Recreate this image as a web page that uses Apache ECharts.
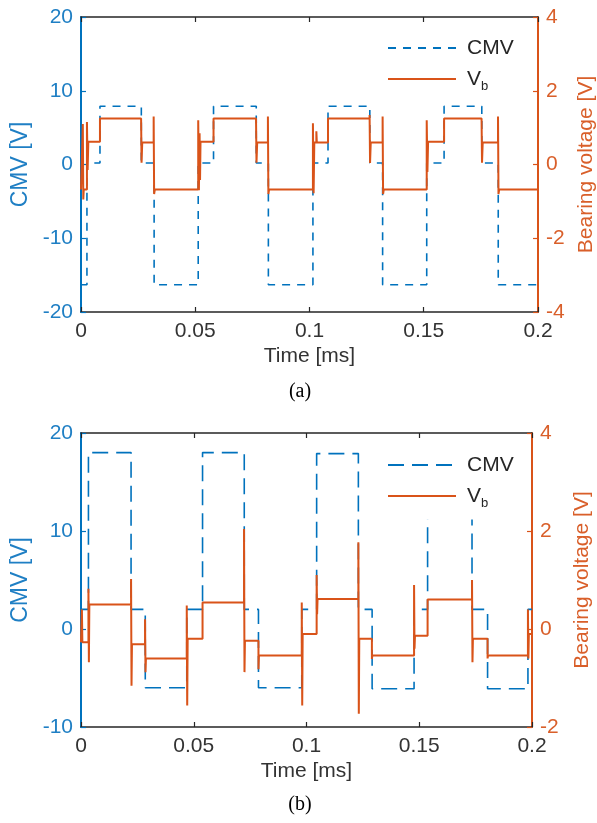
<!DOCTYPE html>
<html>
<head>
<meta charset="utf-8">
<script src="https://cdn.jsdelivr.net/npm/echarts@6/dist/echarts.min.js"></script>
<style>
html,body{margin:0;padding:0;background:#fff;}
#c{width:597px;height:823px;}
</style>
</head>
<body>
<div id="c"></div>
<script>
// ---------- Data (time in ms) ----------
// Plot (a): step breakpoints, value holds from t until next t
const aCmvT = [0, 0.0026, 0.0083, 0.0264, 0.0320, 0.0513, 0.0580, 0.0767, 0.0820, 0.1015, 0.1081, 0.1264, 0.1320, 0.1513, 0.1589, 0.1754, 0.1826, 0.2];
const aCmvV = [-16.3, 0.2, 7.9, 0.2, -16.3, 0.2, 7.9, 0.2, -16.3, 0.2, 7.9, 0.2, -16.3, 0.2, 7.9, 0.2, -16.3, -16.3];

const aVbT = [0, 0.0008, 0.0010, 0.0012,
  0.0026, 0.0029, 0.0032, 0.0083, 0.0263, 0.0265, 0.0268, 0.0318, 0.0320, 0.0323,
  0.0513, 0.0516, 0.0519, 0.0521, 0.0523, 0.0580, 0.0766, 0.0768, 0.0771, 0.0818, 0.0820, 0.0823,
  0.1015, 0.1018, 0.1021, 0.1030, 0.1032, 0.1081, 0.1263, 0.1265, 0.1268, 0.1320, 0.1322, 0.1325,
  0.1513, 0.1516, 0.1519, 0.1589, 0.1753, 0.1755, 0.1758, 0.1825, 0.1827, 0.1830, 0.2];
const aVbV = [-0.68, 1.1, -0.95, -0.68,
  1.15, -0.15, 0.62, 1.25, 1.25, 0.05, 0.6, 1.3, -0.8, -0.68,
  1.2, -0.7, 0.85, -0.42, 0.62, 1.25, 1.25, 0.05, 0.6, 1.3, -0.8, -0.68,
  1.12, -0.78, 0.6, 0.9, 0.6, 1.25, 1.34, 0.04, 0.6, 1.3, -0.8, -0.68,
  1.2, -0.2, 0.62, 1.25, 1.25, 0.05, 0.6, 1.3, -0.8, -0.68, -0.68];

// Plot (b)
const bCmvT = [0, 0.0033, 0.0222, 0.0285, 0.0469, 0.0539, 0.0724, 0.0787, 0.0979, 0.1045, 0.1230, 0.1291, 0.1477, 0.1537, 0.1734, 0.1803, 0.1982, 0.2];
const bCmvV = [2.0, 18.0, 2.0, -6.0, 2.0, 18.0, 2.0, -6.0, 2.0, 17.9, 2.0, -6.1, 2.0, 18.0, 2.0, -6.1, 2.0, 2.0];

const bVbT = [0, 0.0004, 0.0006,
  0.0033, 0.0035, 0.0037, 0.0222, 0.0224, 0.0226, 0.0284, 0.0286, 0.0288, 0.0469, 0.0471, 0.0473,
  0.0539, 0.0723, 0.0725, 0.0727, 0.0787, 0.0789, 0.0979, 0.0981, 0.0983,
  0.1045, 0.1047, 0.1049, 0.1230, 0.1232, 0.1234, 0.1290, 0.1292, 0.1477, 0.1479, 0.1481,
  0.1537, 0.1734, 0.1736, 0.1738, 0.1803, 0.1805, 0.1982, 0.1984, 0.1986, 0.2];
const bVbV = [-0.27, 0.4, -0.27,
  0.82, -0.68, 0.5, 1.02, -1.16, -0.31, 0.2, -0.88, -0.6, 0.48, -1.56, -0.2,
  0.54, 2.04, -0.88, -0.24, -0.82, -0.54, 0.54, -1.56, -0.1,
  1.1, 0.3, 0.61, 1.77, -1.73, -0.2, -0.61, -0.54, 0.9, -0.4, -0.14,
  0.6, 1.0, -0.68, -0.2, -0.6, -0.54, 0.4, -0.6, -0.1, -0.1];

// Axis ranges / ticks
const xTicks = [0, 0.05, 0.1, 0.15, 0.2];
const aLeftTicks = [-20, -10, 0, 10, 20];
const aRightTicks = [-4, -2, 0, 2, 4];
const bLeftTicks = [-10, 0, 10, 20];
const bRightTicks = [-2, 0, 2, 4];

// ---------- Chart ----------
const zip = (t, v) => t.map((x, i) => [x, v[i]]);
const BLUE = '#0072BD', ORANGE = '#D95319', DARK = '#262626';
const BLUE_TXT = '#1f7fc4', ORANGE_TXT = '#d95f2a';
const FONT = 'Liberation Sans';
const FS = 21;

function xAx(gi, top) {
  return {
    type: 'value', gridIndex: gi, position: top ? 'top' : 'bottom',
    min: xTicks[0], max: xTicks[xTicks.length - 1], interval: xTicks[1] - xTicks[0],
    axisLine: {onZero: false, lineStyle: {color: DARK, width: 1.5}},
    axisTick: {inside: true, length: 5, lineStyle: {color: DARK, width: 1.2}},
    axisLabel: {show: !top, color: '#333', fontFamily: FONT, fontSize: FS, margin: 9},
    splitLine: {show: false},
    name: top ? '' : 'Time [ms]', nameLocation: 'middle', nameGap: 34,
    nameTextStyle: {color: '#333', fontFamily: FONT, fontSize: FS}
  };
}
function yAx(gi, ticks, right, name, gap, nfs) {
  const c = right ? ORANGE : BLUE;
  const ct = right ? ORANGE_TXT : BLUE_TXT;
  return {
    type: 'value', gridIndex: gi, position: right ? 'right' : 'left',
    min: ticks[0], max: ticks[ticks.length - 1], interval: ticks[1] - ticks[0],
    alignTicks: false,
    axisLine: {show: true, onZero: false, lineStyle: {color: c, width: 2}},
    axisTick: {show: true, inside: true, length: 5, lineStyle: {color: c, width: 1.2}},
    axisLabel: {color: ct, fontFamily: FONT, fontSize: FS, margin: 8},
    splitLine: {show: false},
    name: name, nameLocation: 'middle', nameRotate: 90, nameGap: gap,
    nameTextStyle: {color: ct, fontFamily: FONT, fontSize: nfs}
  };
}
function legend(top, a, b) {
  return {
    orient: 'vertical', left: 381, top: top,
    data: [a, b], itemWidth: 68, itemHeight: 14, itemGap: 9,
    backgroundColor: '#fff', padding: [8, 10, 10, 6],
    selectedMode: false,
    itemStyle: {color: 'rgba(0,0,0,0)', borderColor: 'rgba(0,0,0,0)', borderWidth: 0, opacity: 0},
    formatter: n => n.indexOf('Vb') >= 0 ? '{v|V}{s|b}' : '{v|CMV}',
    textStyle: {
      color: DARK, fontFamily: FONT, fontSize: FS, lineHeight: 22,
      rich: {
        v: {fontFamily: FONT, fontSize: FS, color: DARK, padding: [0, 0, 0, 6], lineHeight: 22},
        s: {fontFamily: FONT, fontSize: 13, color: DARK, padding: [14, 0, 0, 0]}
      }
    }
  };
}
function line(name, xi, yi, data, color, width, dash) {
  return {
    name: name, type: 'line', xAxisIndex: xi, yAxisIndex: yi,
    data: data, step: 'end', symbol: 'none', showSymbol: false,
    animation: false, clip: true,
    lineStyle: {color: color, width: width, type: dash || 'solid'},
    itemStyle: {color: color}
  };
}

const option = {
  animation: false,
  backgroundColor: '#fff',
  grid: [
    {left: 81, top: 17, width: 457, height: 295, outerBoundsMode: 'none', containLabel: false},
    {left: 81, top: 433, width: 451, height: 294, outerBoundsMode: 'none', containLabel: false}
  ],
  xAxis: [xAx(0, false), xAx(0, true), xAx(1, false), xAx(1, true)],
  yAxis: [
    yAx(0, aLeftTicks, false, 'CMV [V]', 49, 23),
    yAx(0, aRightTicks, true, 'Bearing voltage [V]', 31, 21),
    yAx(1, bLeftTicks, false, 'CMV [V]', 49, 23),
    yAx(1, bRightTicks, true, 'Bearing voltage [V]', 40, 21)
  ],
  legend: [legend(29, 'aCMV', 'aVb'), legend(446, 'bCMV', 'bVb')],
  series: [
    line('aCMV', 0, 0, zip(aCmvT, aCmvV), BLUE, 1.6, [8, 7]),
    line('aVb', 0, 1, zip(aVbT, aVbV), ORANGE, 2),
    line('bCMV', 2, 2, zip(bCmvT, bCmvV), BLUE, 1.6, [16, 8]),
    line('bVb', 2, 3, zip(bVbT, bVbV), ORANGE, 2)
  ],
  graphic: [
    {type: 'text', x: 300, y: 392, style: {text: '(a)', fontFamily: 'Liberation Serif', fontSize: 20, fill: '#000', align: 'center', verticalAlign: 'middle'}},
    {type: 'text', x: 300, y: 805, style: {text: '(b)', fontFamily: 'Liberation Serif', fontSize: 20, fill: '#000', align: 'center', verticalAlign: 'middle'}}
  ]
};
const chart = echarts.init(document.getElementById('c'), null, {renderer: 'canvas'});
chart.setOption(option);
</script>
</body>
</html>
